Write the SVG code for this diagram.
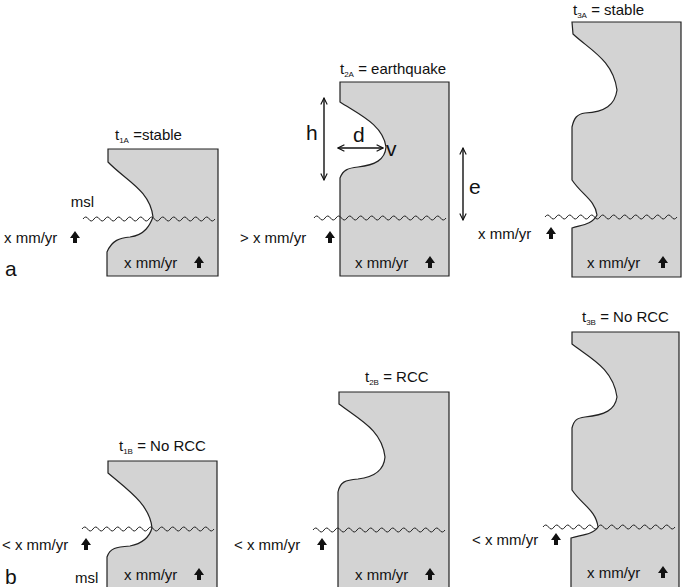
<svg xmlns="http://www.w3.org/2000/svg" width="683" height="587" viewBox="0 0 683 587">
<style>
text{font-family:"Liberation Sans",Arial,sans-serif;font-size:15px;fill:#111}
.big{font-size:21px}
.sub{font-size:8px}
.rock{fill:#d3d3d3;stroke:#222;stroke-width:1.2}
.wave{fill:none;stroke:#222;stroke-width:1}
.dim{fill:none;stroke:#111;stroke-width:1.4;marker-start:url(#ah);marker-end:url(#ah)}
</style>
<defs>
<marker id="ah" viewBox="0 0 10 10" refX="9" refY="5" markerWidth="8" markerHeight="8" orient="auto-start-reverse" markerUnits="userSpaceOnUse"><path d="M1,1 L9,5 L1,9" fill="none" stroke="#111" stroke-width="1.4"/></marker>
<path id="up" d="M0,-12 L5,-5 L2,-5 L2,0 L-2,0 L-2,-5 L-5,-5 Z" fill="#111"/>
<path id="w" d="M0,0 q2.75 -4 5.5 0 t5.5 0 t5.5 0 t5.5 0 t5.5 0 t5.5 0 t5.5 0 t5.5 0 t5.5 0 t5.5 0 t5.5 0 t5.5 0 t5.5 0 t5.5 0 t5.5 0 t5.5 0 t5.5 0 t5.5 0 t5.5 0 t5.5 0 t5.5 0 t5.5 0 t5.5 0 t5.5 0"/>
</defs>
<text class="big" x="5" y="276">a</text>
<text class="big" x="5" y="584">b</text>

<g id="a1">
<path class="rock" d="M108,149 L218,149 L218,276 L107,276 L107,252 C112,240 120,238 130,237 C145,235 150,225 153,217 C150,190 125,180 108,162 Z"/>
<use href="#w" class="wave" x="83" y="219"/>
<text x="94" y="207" text-anchor="end">msl</text>
<text x="4" y="243">x mm/yr</text><use href="#up" x="75" y="243"/>
<text x="124" y="268">x mm/yr</text><use href="#up" x="199" y="268"/>
<text x="115" y="140">t<tspan class="sub" dy="3">1A</tspan><tspan dy="-3"> =stable</tspan></text>
</g>

<g id="a2">
<path class="rock" d="M340,82 L449,82 L449,276 L340,276 L340,178 C343,170 348,168 358,167 C375,165 385,160 386,147 C383,125 360,115 340,102 Z"/>
<use href="#w" class="wave" x="314" y="218"/>
<path class="dim" d="M324,98 L324,180"/>
<path class="dim" d="M338,148 L383,148"/>
<path class="dim" d="M463,148 L463,220"/>
<text class="big" x="306" y="140">h</text>
<text class="big" x="353" y="142">d</text>
<text class="big" x="386" y="156">v</text>
<text class="big" x="469" y="194">e</text>
<text x="240" y="243">&gt; x mm/yr</text><use href="#up" x="330" y="243"/>
<text x="355" y="268">x mm/yr</text><use href="#up" x="430" y="268"/>
<text x="340" y="74">t<tspan class="sub" dy="3">2A</tspan><tspan dy="-3"> = earthquake</tspan></text>
</g>

<g id="a3">
<path class="rock" d="M572,22 L681,22 L681,277 L572,277 L572,228 C580,225 592,225 597,215 C595,200 582,195 572,180 L572,127 C574,118 577,114 585,113 C605,112 615,105 617,90 C613,60 590,50 573,34 Z"/>
<use href="#w" class="wave" x="545" y="217"/>
<text x="478" y="239">x mm/yr</text><use href="#up" x="551" y="239"/>
<text x="587" y="268">x mm/yr</text><use href="#up" x="663" y="268"/>
<text x="573" y="15">t<tspan class="sub" dy="3">3A</tspan><tspan dy="-3"> = stable</tspan></text>
</g>

<g id="b1">
<path class="rock" d="M108,461 L217,461 L217,590 L107,590 L107,557 C110,548 116,547 130,546 C145,543 150,535 152,528 C150,505 128,490 108,473 Z"/>
<use href="#w" class="wave" x="82" y="529"/>
<text x="75" y="583">msl</text>
<text x="2" y="550">&lt; x mm/yr</text><use href="#up" x="86" y="550"/>
<text x="124" y="580">x mm/yr</text><use href="#up" x="199" y="580"/>
<text x="119" y="451">t<tspan class="sub" dy="3">1B</tspan><tspan dy="-3"> = No RCC</tspan></text>
</g>

<g id="b2">
<path class="rock" d="M339,392 L449,392 L449,590 L338,590 L338,492 C340,482 345,480 358,479 C375,477 384,470 385,457 C382,430 360,420 339,404 Z"/>
<use href="#w" class="wave" x="313" y="530"/>
<text x="234" y="550">&lt; x mm/yr</text><use href="#up" x="322" y="550"/>
<text x="355" y="580">x mm/yr</text><use href="#up" x="430" y="580"/>
<text x="365" y="382">t<tspan class="sub" dy="3">2B</tspan><tspan dy="-3"> = RCC</tspan></text>
</g>

<g id="b3">
<path class="rock" d="M572,332 L679,332 L679,590 L571,590 L571,538 C580,535 593,535 598,527 C596,510 582,505 572,490 L572,428 C574,420 577,418 585,417 C605,415 615,410 617,397 C613,368 590,358 572,344 Z"/>
<use href="#w" class="wave" x="543" y="527"/>
<text x="472" y="545">&lt; x mm/yr</text><use href="#up" x="556" y="545"/>
<text x="587" y="578">x mm/yr</text><use href="#up" x="663" y="578"/>
<text x="582" y="322">t<tspan class="sub" dy="3">3B</tspan><tspan dy="-3"> = No RCC</tspan></text>
</g>
</svg>
